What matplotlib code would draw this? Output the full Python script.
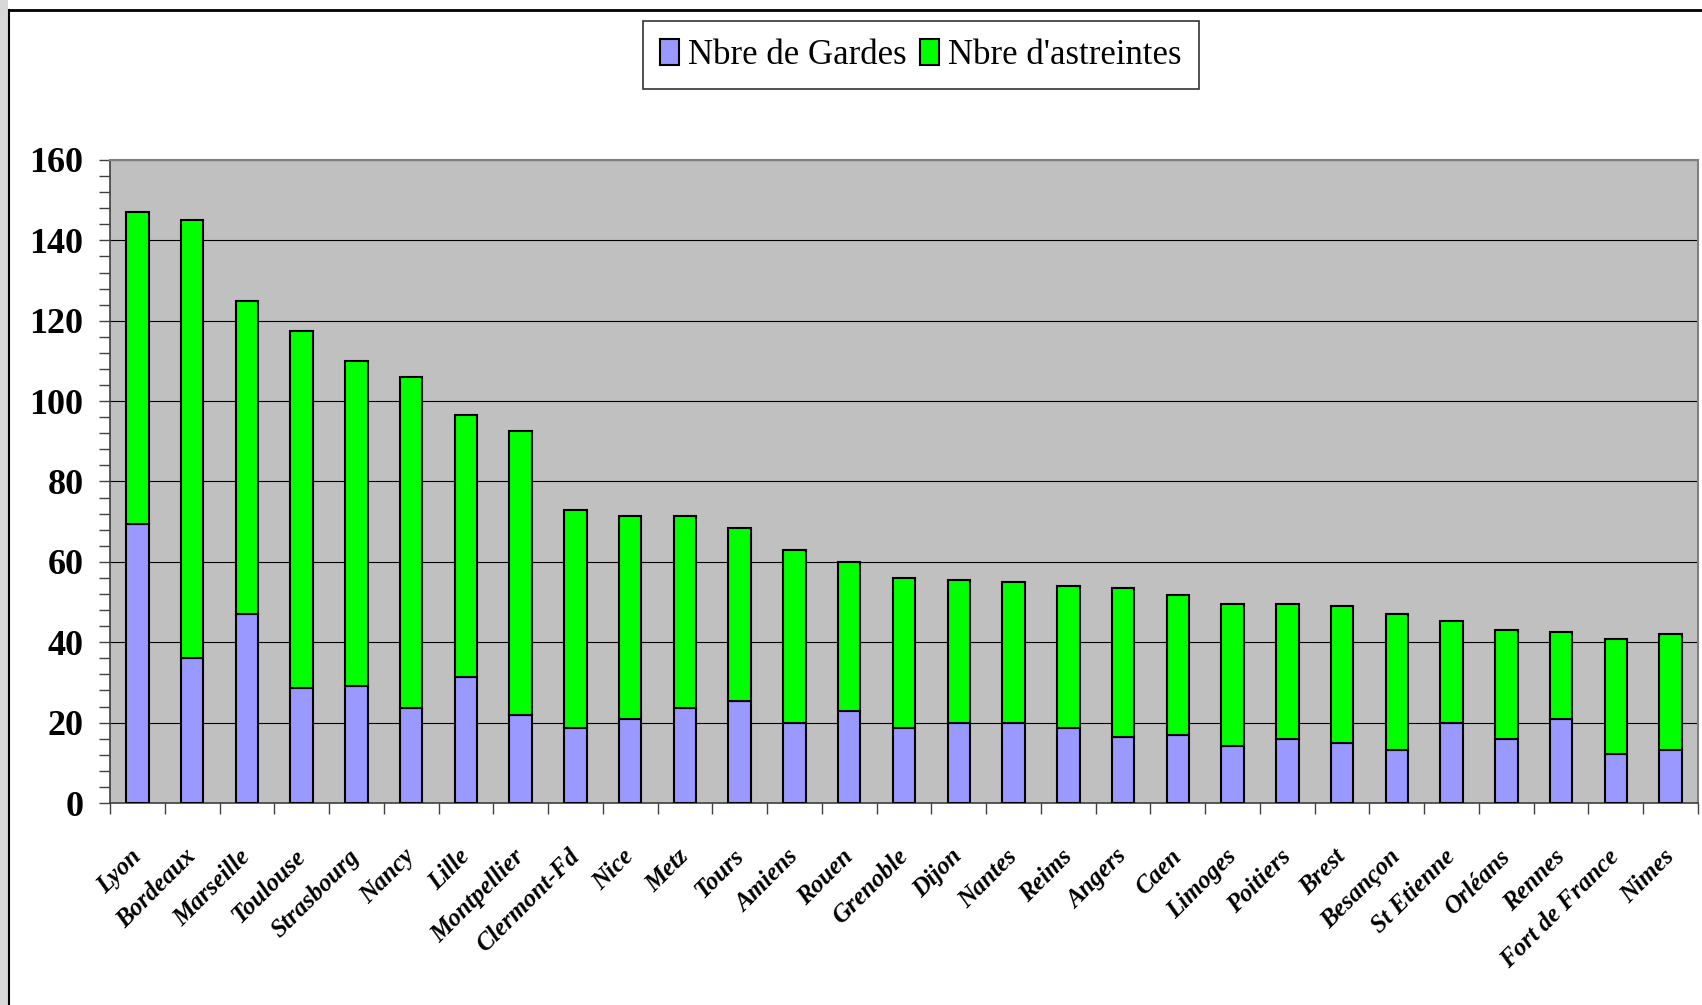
import matplotlib.pyplot as plt
import numpy as np
from matplotlib.lines import Line2D
from matplotlib.patches import Rectangle
from matplotlib.ticker import MultipleLocator

villes = ['Lyon', 'Bordeaux', 'Marseille', 'Toulouse', 'Strasbourg', 'Nancy', 'Lille',
          'Montpellier', 'Clermont-Fd', 'Nice', 'Metz', 'Tours', 'Amiens', 'Rouen',
          'Grenoble', 'Dijon', 'Nantes', 'Reims', 'Angers', 'Caen', 'Limoges', 'Poitiers',
          'Brest', 'Besançon', 'St Etienne', 'Orléans', 'Rennes', 'Fort de France', 'Nimes']

# totaux (gardes + astreintes)
totaux = [147, 145, 125, 117.5, 110, 106, 96.5, 92.5, 73, 71.5, 71.5, 68.5, 63, 60,
          56, 55.5, 55, 54, 53.5, 51.7, 49.6, 49.6, 49, 47, 45.3, 43, 42.5, 40.8, 42]
gardes = [69.5, 36, 47, 28.6, 29.2, 23.7, 31.4, 22, 18.6, 20.9, 23.7, 25.3, 19.8, 23,
          18.6, 19.8, 19.8, 18.6, 16.5, 17, 14.2, 15.9, 14.9, 13.2, 19.8, 15.9, 20.9, 12.1, 13.2]
astreintes = [t - g for t, g in zip(totaux, gardes)]

fig = plt.figure(figsize=(17.02, 10.05), dpi=100)
ax = fig.add_axes([110 / 1702, 202 / 1005, 1588 / 1702, 643 / 1005])

x = np.arange(len(villes))
ax.bar(x, gardes, width=0.41, color='#9999FF', edgecolor='black', linewidth=1.5,
       label='Nbre de Gardes', zorder=3)
ax.bar(x, astreintes, width=0.41, bottom=gardes, color='#00FF00', edgecolor='black',
       linewidth=1.5, label="Nbre d'astreintes", zorder=3)

ax.set_facecolor('#C0C0C0')
ax.set_xlim(-0.5, len(villes) - 0.5)
ax.set_ylim(0, 160)
ax.yaxis.set_major_locator(MultipleLocator(20))
ax.yaxis.set_minor_locator(MultipleLocator(4))
ax.grid(axis='y', which='major', color='black', linewidth=0.8, zorder=1)

for s in ['top', 'right']:
    ax.spines[s].set_color('#808080')
    ax.spines[s].set_linewidth(1.5)
for s in ['left', 'bottom']:
    ax.spines[s].set_color('#404040')
    ax.spines[s].set_linewidth(1.2)

# ticks x entre les catégories, étiquettes au centre
ax.set_xticks(np.arange(len(villes) + 1) - 0.5)
ax.set_xticklabels([])
ax.set_xticks(x, minor=True)
ax.set_xticklabels(villes, minor=True, rotation=45, ha='right', va='center',
                   rotation_mode='anchor', fontsize=18, fontweight='bold',
                   fontstyle='italic', family='Liberation Serif')
ax.tick_params(axis='x', which='major', length=8, width=1, color='#404040')
ax.tick_params(axis='x', which='minor', length=0, pad=36)
ax.tick_params(axis='y', which='both', length=8, width=1, color='#404040', pad=11)
for lab in ax.get_yticklabels():
    lab.set_fontsize(26)
    lab.set_fontweight('bold')
    lab.set_family('Liberation Serif')

leg = fig.legend(loc='center', bbox_to_anchor=(0.541, 0.945), ncol=2, frameon=True,
                 fancybox=False, edgecolor='black', handlelength=0.55, handleheight=0.8,
                 handletextpad=0.25, columnspacing=0.4, borderpad=0.5,
                 prop={'family': 'Liberation Serif', 'size': 25})
leg.get_frame().set_linewidth(1.2)

# cadre de l'objet graphique
fig.add_artist(Rectangle((0, 0), 8 / 1702, 1, transform=fig.transFigure,
                         facecolor='#D8D8D8', edgecolor='none'))
fig.add_artist(Line2D([8.5 / 1702, 8.5 / 1702], [0, 1 - 10 / 1005],
                      transform=fig.transFigure, color='black', linewidth=1.5))
fig.add_artist(Line2D([8.5 / 1702, 1], [1 - 10 / 1005, 1 - 10 / 1005],
                      transform=fig.transFigure, color='black', linewidth=2))

plt.savefig('out.png', dpi=100)
